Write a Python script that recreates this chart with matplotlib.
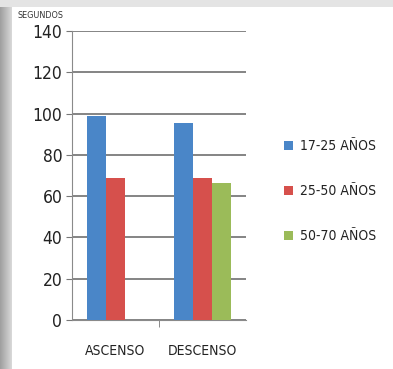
import numpy as np
import matplotlib
matplotlib.use('Agg')
from matplotlib import pyplot as plt

# condensed faces for all labels
plt.rcParams['font.family'] = ['DejaVu Sans']
plt.rcParams['font.stretch'] = 'condensed'

categories = ['ASCENSO', 'DESCENSO']
series = ['17-25 AÑOS', '25-50 AÑOS', '50-70 AÑOS']
values = [
    [99, 95.5],   # 17-25
    [69, 69],     # 25-50
    [np.nan, 66.5],  # 50-70, no ascenso value
]
colors = ['#4a86c8', '#d6504c', '#9bbb59']
yticks = [0, 20, 40, 60, 80, 100, 120, 140]

W, H = 393, 369
fig = plt.figure(figsize=(W / 100, H / 100), dpi=100)
fig.patch.set_facecolor('#e4e4e4')

# white page
bg = fig.add_axes([12 / W, 0, 1 - 12 / W, 1 - 7 / H], zorder=-2)
bg.axis('off')
bg.add_patch(plt.Rectangle((0, 0), 1, 1, transform=bg.transAxes, color='white'))

# shaded strip on the left
grad = np.linspace(0.62, 0.85, 50).reshape(1, -1)
gax = fig.add_axes([0, 0, 12 / W, 1 - 7 / H], zorder=-1)
gax.imshow(grad, aspect='auto', cmap='gray', vmin=0, vmax=1)
gax.axis('off')

ax = fig.add_axes([72 / W, 1 - 320 / H, (246 - 72) / W, (320 - 31) / H], zorder=2)
ax.set_facecolor('none')

x = np.arange(len(categories))
bw = 0.22
for i, (name, vals) in enumerate(zip(series, values)):
    ax.bar(x + (i - 1) * bw, vals, width=bw, color=colors[i], label=name, zorder=3)

ax.set_xlim(-0.5, 1.5)
ax.set_ylim(0, 140)
ax.set_yticks(yticks)
ax.set_yticklabels([str(t) for t in yticks], fontsize=12.5, color='#222222')
ax.set_xticks(x)
ax.set_xticklabels(categories, fontsize=10, color='#222222')
ax.tick_params(axis='x', length=0, pad=17)
ax.set_xticks([0.5], minor=True)
ax.tick_params(axis='x', which='minor', length=5, color='#777777', direction='out')
ax.tick_params(axis='y', length=4, color='#777777', pad=3)
ax.grid(axis='y', color='#6f6f6f', linewidth=1.2, zorder=0)
for s in ['top', 'right']:
    ax.spines[s].set_visible(False)
ax.spines['left'].set_color('#8a8a8a')
ax.spines['bottom'].set_color('#8a8a8a')

fig.text(17 / W, 1 - 15 / H, 'SEGUNDOS', fontsize=6.5, color='#333333', va='center')

ax.legend(loc='center left', bbox_to_anchor=(1.149, 0.446), frameon=False,
          fontsize=10, handlelength=0.6, handleheight=0.6, handletextpad=0.5,
          labelspacing=2.24, labelcolor='#222222')

fig.savefig('out.png', dpi=100)
